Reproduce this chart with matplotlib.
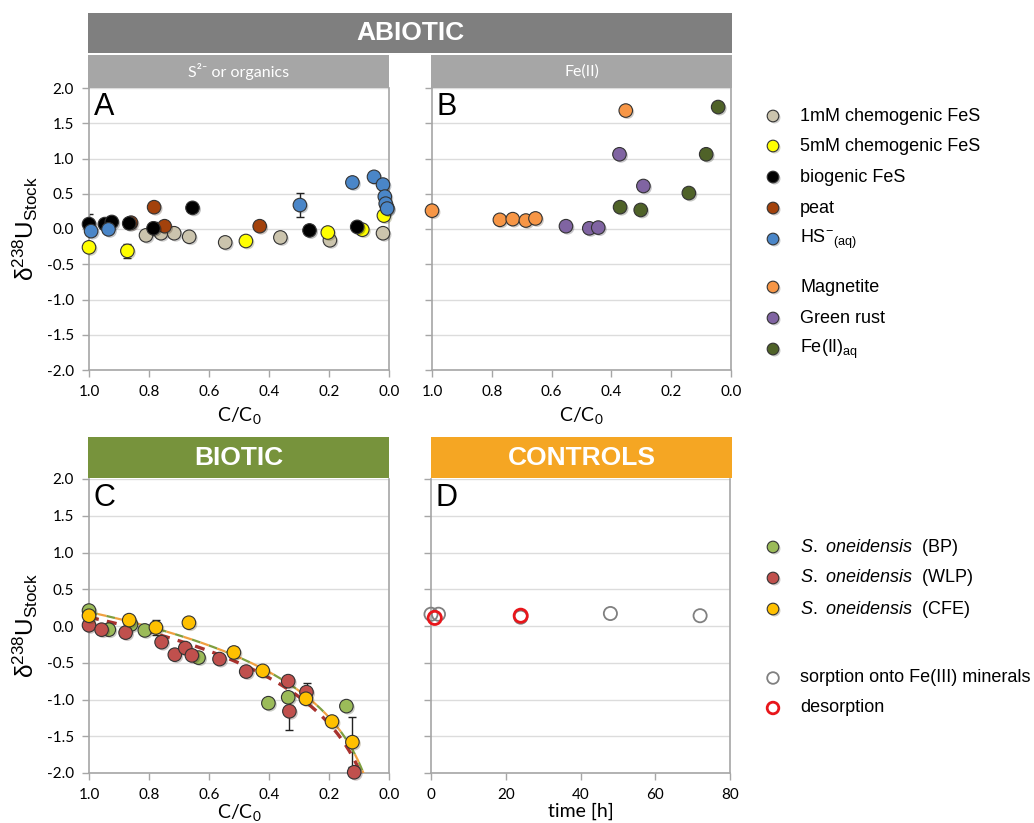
import numpy as np
import matplotlib
matplotlib.use("Agg")
import matplotlib.pyplot as plt
import matplotlib.patheffects as pe
from matplotlib.patches import Rectangle

plt.rcParams["font.family"] = ["Liberation Sans", "DejaVu Sans"]
plt.rcParams["mathtext.fontset"] = "custom"
plt.rcParams["mathtext.rm"] = "Liberation Sans"
plt.rcParams["mathtext.it"] = "Liberation Sans:italic"
plt.rcParams["mathtext.default"] = "regular"

# ---------------- panel A : S2- or organics ----------------
fes1_x = [0.81, 0.76, 0.716, 0.666, 0.546, 0.362, 0.197, 0.02]
fes1_y = [-0.09, -0.06, -0.06, -0.11, -0.19, -0.12, -0.16, -0.06]

fes5_x = [1.0, 0.872, 0.477, 0.204, 0.089, 0.017]
fes5_y = [-0.26, -0.31, -0.17, -0.05, -0.01, 0.19]
fes5_err = [0, 0.10, 0, 0, 0, 0]

peat_x = [0.86, 0.783, 0.748, 0.431]
peat_y = [0.09, 0.31, 0.04, 0.04]

bio_x = [1.0, 0.947, 0.924, 0.866, 0.785, 0.655, 0.265, 0.106, 0.006]
bio_y = [0.07, 0.07, 0.10, 0.08, 0.01, 0.30, -0.02, 0.03, 0.30]
bio_err = [0.14, 0, 0, 0, 0.09, 0, 0, 0, 0]

hs_x = [0.993, 0.935, 0.297, 0.122, 0.050, 0.020, 0.014, 0.011, 0.006]
hs_y = [-0.03, -0.005, 0.34, 0.66, 0.74, 0.63, 0.46, 0.36, 0.29]
hs_err = [0, 0, 0.165, 0, 0, 0, 0, 0, 0]

# ---------------- panel B : Fe(II) ----------------
mag_x = [1.0, 0.773, 0.73, 0.686, 0.654, 0.352]
mag_y = [0.26, 0.13, 0.14, 0.12, 0.15, 1.68]

gr_x = [0.552, 0.474, 0.444, 0.373, 0.293]
gr_y = [0.04, 0.01, 0.02, 1.06, 0.61]

fe2_x = [0.371, 0.302, 0.141, 0.083, 0.043]
fe2_y = [0.31, 0.27, 0.51, 1.06, 1.73]

# ---------------- panel C : biotic ----------------
bp_x = [1.0, 0.934, 0.86, 0.814, 0.635, 0.402, 0.336, 0.142]
bp_y = [0.21, -0.05, 0.02, -0.06, -0.43, -1.05, -0.97, -1.09]
bp_err = [0, 0.06, 0, 0, 0, 0.04, 0, 0]

wlp_x = [1.0, 0.958, 0.878, 0.758, 0.714, 0.679, 0.657, 0.565, 0.476, 0.336, 0.275, 0.332, 0.116]
wlp_y = [0.01, -0.05, -0.09, -0.22, -0.39, -0.30, -0.40, -0.45, -0.62, -0.75, -0.90, -1.16, -1.99]
wlp_err = [0, 0, 0, 0, 0, 0, 0, 0, 0, 0.05, 0.12, 0.26, 0]

cfe_x = [1.0, 0.866, 0.777, 0.667, 0.517, 0.421, 0.277, 0.19, 0.122]
cfe_y = [0.14, 0.08, -0.02, 0.045, -0.36, -0.61, -0.99, -1.30, -1.58]
cfe_err = [0, 0, 0.10, 0, 0.07, 0, 0, 0, 0.34]

# Rayleigh fits: delta = d0 + eps * ln(C/C0)
fit_upper = (0.19, 0.89)
fit_wlp = (0.12, 0.90)

# ---------------- panel D : controls ----------------
sorp_t = [0, 2, 24, 48, 72]
sorp_y = [0.16, 0.16, 0.12, 0.17, 0.14]
desorp_t = [1, 24]
desorp_y = [0.11, 0.14]

# colours
c_fes1 = "#cbc4ad"
c_fes5 = "#ffff00"
c_bio = "#000000"
c_peat = "#a3420c"
c_hs = "#4a86c8"
c_mag = "#f79646"
c_gr = "#8064a2"
c_fe2 = "#4f6228"
c_bp = "#9bbb59"
c_wlp = "#c0504d"
c_cfe = "#ffc000"

W, H = 1034, 823
fig = plt.figure(figsize=(W / 100, H / 100), dpi=100)

shadow = [pe.SimplePatchShadow(offset=(1.2, -1.2), alpha=0.25), pe.Normal()]
tick_font = {"family": "Lato", "size": 11}


def rect(x0, y0, x1, y1):
    return [x0 / W, 1 - y1 / H, (x1 - x0) / W, (y1 - y0) / H]


def style_axes(ax, ylabels=True):
    ax.set_ylim(-2.0, 2.0)
    ax.set_yticks(np.arange(-2.0, 2.01, 0.5))
    ax.grid(axis="y", color="#dcdcdc", lw=1)
    ax.set_axisbelow(True)
    for s in ["left", "right", "bottom"]:
        ax.spines[s].set_color("#a6a6a6")
        ax.spines[s].set_linewidth(1.2)
    ax.spines["top"].set_visible(False)
    ax.tick_params(axis="both", color="#a6a6a6", length=5, width=1, direction="out", pad=6)
    if ylabels:
        ax.set_yticklabels([f"{v:.1f}" for v in ax.get_yticks()], fontdict=tick_font)
        ax.set_ylabel(r"$\delta^{238}U_{Stock}$", fontsize=17.5, labelpad=5)
    else:
        ax.set_yticklabels([])


def pts(ax, x, y, color, err=None, s=95):
    if err is not None:
        ax.errorbar(x, y, yerr=err, fmt="none", ecolor="#222222", elinewidth=1,
                    capsize=3, capthick=1, zorder=2)
    sc = ax.scatter(x, y, s=s, c=color, edgecolors="#333333", linewidths=0.8, zorder=3,
                    clip_on=False)
    sc.set_path_effects(shadow)
    return sc


def cc0_axis(ax, pad=4):
    ax.set_xlim(1.0, 0.0)
    ax.set_xticks(np.arange(0, 1.01, 0.2))
    ax.set_xticklabels([f"{v:.1f}" for v in ax.get_xticks()], fontdict=tick_font)
    ax.set_xlabel("C/C$_0$", fontfamily="Lato", fontsize=14, labelpad=pad)


# ---- A
axA = fig.add_axes(rect(89, 88, 389, 370))
style_axes(axA)
cc0_axis(axA)
pts(axA, fes1_x, fes1_y, c_fes1)
pts(axA, fes5_x, fes5_y, c_fes5, fes5_err)
pts(axA, peat_x, peat_y, c_peat)
pts(axA, bio_x, bio_y, c_bio, bio_err)
pts(axA, hs_x, hs_y, c_hs, hs_err)

# ---- B
axB = fig.add_axes(rect(432, 88, 731, 370))
style_axes(axB, ylabels=False)
cc0_axis(axB)
pts(axB, mag_x, mag_y, c_mag)
pts(axB, gr_x, gr_y, c_gr)
pts(axB, fe2_x, fe2_y, c_fe2)

# ---- C
axC = fig.add_axes(rect(89, 479, 389, 773))
style_axes(axC)
cc0_axis(axC, pad=0)
f = np.linspace(1.0, 0.06, 300)
upper = fit_upper[0] + fit_upper[1] * np.log(f)
lower = fit_wlp[0] + fit_wlp[1] * np.log(f)
axC.plot(f, upper, color="#7f9f3f", lw=1.6, linestyle=(0, (4, 4)), zorder=2.5)
axC.plot(f, upper, color="#f0a040", lw=1.6, linestyle=(4, (4, 4)), zorder=2.6)
axC.plot(f, lower, color="#a8322e", lw=2.4, linestyle=(0, (3, 2.5)), zorder=2.7)
pts(axC, bp_x, bp_y, c_bp, bp_err)
pts(axC, wlp_x, wlp_y, c_wlp, wlp_err)
pts(axC, cfe_x, cfe_y, c_cfe, cfe_err)

# ---- D
axD = fig.add_axes(rect(431, 479, 730, 773))
style_axes(axD, ylabels=False)
axD.set_xlim(0, 80)
axD.set_xticks([0, 20, 40, 60, 80])
axD.set_xticklabels(["0", "20", "40", "60", "80"], fontdict=tick_font)
axD.set_xlabel("time [h]", fontfamily="Lato", fontsize=14, labelpad=0)
axD.scatter(sorp_t, sorp_y, s=90, facecolors="none", edgecolors="#808080", linewidths=1.3,
            zorder=3, clip_on=False)
axD.scatter(desorp_t, desorp_y, s=90, facecolors="none", edgecolors="#e8161b", linewidths=2,
            zorder=4, clip_on=False)

for ax, letter in [(axA, "A"), (axB, "B"), (axC, "C"), (axD, "D")]:
    ax.text(0.015, 0.985, letter, transform=ax.transAxes, fontsize=22, va="top", ha="left")

# ---- headers and legends on an overlay in pixel units
ov = fig.add_axes([0, 0, 1, 1])
ov.set_xlim(0, W)
ov.set_ylim(H, 0)
ov.axis("off")


def bar(x0, y0, x1, y1, color, text, **kw):
    ov.add_patch(Rectangle((x0, y0), x1 - x0, y1 - y0, color=color, lw=0))
    ov.text((x0 + x1) / 2, (y0 + y1) / 2, text, color="white", ha="center", va="center", **kw)


bar(88, 13, 732, 53, "#7f7f7f", "ABIOTIC", fontsize=19, fontweight="bold")
bar(88, 55, 389, 88, "#a6a6a6", "S²⁻ or organics", fontsize=11.5, fontfamily=["Lato", "DejaVu Sans"])
bar(431, 55, 732, 88, "#a6a6a6", "Fe(II)", fontsize=11.5, fontfamily="Lato")
bar(88, 437, 389, 478, "#77933c", "BIOTIC", fontsize=19, fontweight="bold")
bar(431, 437, 732, 478, "#f5a623", "CONTROLS", fontsize=19, fontweight="bold")

legend_rows = [
    ("1mM chemogenic FeS", c_fes1, 116),
    ("5mM chemogenic FeS", c_fes5, 146),
    ("biogenic FeS", c_bio, 177),
    ("peat", c_peat, 208),
    ("HS$^{-}$$_{(aq)}$", c_hs, 239),
    ("Magnetite", c_mag, 287),
    ("Green rust", c_gr, 318),
    ("Fe(II)$_{aq}$", c_fe2, 349),
    (r"$\mathit{S.\ oneidensis}$  (BP)", c_bp, 547),
    (r"$\mathit{S.\ oneidensis}$  (WLP)", c_wlp, 578),
    (r"$\mathit{S.\ oneidensis}$  (CFE)", c_cfe, 609),
]
for label, color, yy in legend_rows:
    m = ov.scatter([773], [yy], s=70, c=color, edgecolors="#333333", linewidths=0.8)
    m.set_path_effects(shadow)
    ov.text(800, yy, label, fontsize=13, va="center", ha="left")

ov.scatter([773], [678], s=70, facecolors="none", edgecolors="#808080", linewidths=1.3)
ov.text(800, 678, "sorption onto Fe(III) minerals", fontsize=13, va="center", ha="left")
ov.scatter([773], [708], s=70, facecolors="none", edgecolors="#e8161b", linewidths=2)
ov.text(800, 708, "desorption", fontsize=13, va="center", ha="left")

fig.savefig("out.png", dpi=100)
